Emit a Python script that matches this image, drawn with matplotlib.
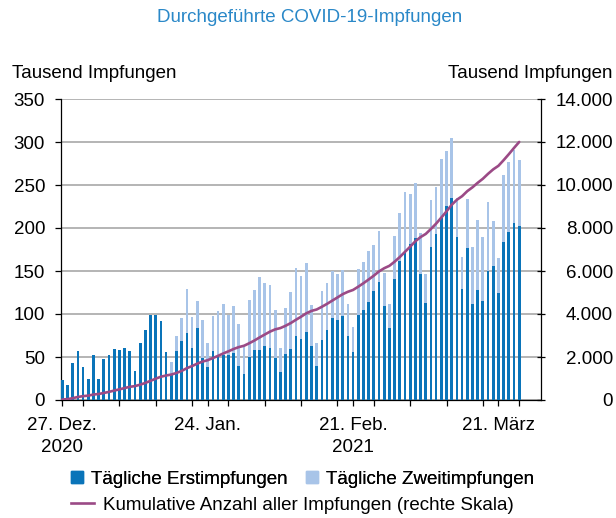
import numpy as np
import pandas as pd
import matplotlib
matplotlib.use("Agg")
import matplotlib.pyplot as plt
import matplotlib.dates as mdates
from matplotlib.lines import Line2D
from matplotlib.ticker import FuncFormatter, MultipleLocator

plt.rcParams['font.family'] = ['Liberation Sans', 'DejaVu Sans']
FS = 13.5

start_date = "2020-12-27"
# Tägliche Erstimpfungen (Tausend)
first_doses = [23, 18, 43, 57, 38, 24, 52, 24, 48, 52, 59, 58, 60, 57, 34, 66, 81, 99, 99, 92, 56,
               29, 57, 69, 78, 61, 84, 49, 38, 57, 51, 52, 52, 55, 39, 30, 50, 58, 58, 63, 60, 49,
               33, 54, 59, 75, 71, 79, 63, 40, 70, 81, 95, 93, 98, 74, 56, 99, 105, 114, 127, 137, 109,
               84, 141, 162, 173, 181, 188, 147, 113, 178, 193, 212, 226, 235, 189, 129, 177, 112, 128,
               115, 150, 156, 125, 184, 195, 206, 202]
# Tägliche Zweitimpfungen (Tausend)
second_doses = [0] * 21 + \
               [15, 17, 26, 51, 35, 31, 44, 28, 41, 52, 60, 47, 54, 49, 32, 66, 70, 85, 73, 74, 56,
                27, 53, 67, 78, 73, 80, 47, 26, 57, 55, 55, 54, 53, 38, 29, 53, 56, 59, 53, 60, 39,
                28, 50, 55, 69, 59, 64, 47, 34, 54, 55, 68, 64, 70, 46, 37, 57, 66, 81, 74, 80, 52,
                40, 78, 82, 85, 77]

major_tick_dates = ["2020-12-27", "2021-01-24", "2021-02-21", "2021-03-21"]
major_tick_labels = ["27. Dez.\n2020", "24. Jan.", "21. Feb.\n2021", "21. März"]
left_ticks = [0, 50, 100, 150, 200, 250, 300, 350]
right_ticks = [0, 2000, 4000, 6000, 8000, 10000, 12000, 14000]

first = np.array(first_doses, dtype=float)
second = np.array(second_doses, dtype=float)
dates = pd.date_range(start_date, periods=len(first), freq="D")
cumulative = np.cumsum(first + second)

DARK = "#0a74b9"
LIGHT = "#a8c4e8"
LINEC = "#9b4a86"
TITLEC = "#2a88c8"

fig = plt.figure(figsize=(6.16, 5.18), dpi=100)
W, H = 616, 518
ax = fig.add_axes([61 / W, (H - 400) / H, 480 / W, 301 / H])

x = mdates.date2num(dates)
bw = 0.52
ax.bar(x, first, width=bw, color=DARK, zorder=3, linewidth=0)
ax.bar(x, second, width=bw, bottom=first, color=LIGHT, zorder=3, linewidth=0)

ax.set_ylim(0, 350)
ax.set_yticks(left_ticks)
ax.yaxis.grid(True, color="#a0a0a0", linewidth=1.1, zorder=0)
ax.set_axisbelow(True)
x0 = mdates.date2num(pd.Timestamp(start_date))
ax.set_xlim(x0 - 0.25, x0 + 92.2)

ax.set_xticks(mdates.date2num(pd.to_datetime(major_tick_dates)))
ax.set_xticklabels(major_tick_labels, fontsize=FS, linespacing=1.4)
ax.xaxis.set_minor_locator(MultipleLocator(7))
ax.tick_params(axis="x", which="both", direction="out", length=4, width=0.9, pad=8)
ax.tick_params(axis="y", direction="out", length=4.5, width=0.9, pad=7, labelsize=FS)

for s in ["top", "right"]:
    ax.spines[s].set_visible(False)
for s in ["left", "bottom"]:
    ax.spines[s].set_linewidth(0.9)

ax2 = ax.twinx()
ax2.plot(x, cumulative, color=LINEC, linewidth=1.9, zorder=5, solid_capstyle="round")
ax2.set_ylim(0, 14000)
ax2.set_yticks(right_ticks)
ax2.yaxis.set_major_formatter(FuncFormatter(lambda v, p: f"{int(v):,}".replace(",", ".")))
ax2.tick_params(axis="y", direction="inout", length=6, width=0.9, pad=49, labelsize=FS)
for lab in ax2.get_yticklabels():
    lab.set_horizontalalignment("right")
for s in ["top", "left", "bottom"]:
    ax2.spines[s].set_visible(False)
ax2.spines["right"].set_linewidth(0.9)

fig.text(310 / W, 1 - 17 / H, "Durchgeführte COVID-19-Impfungen", ha="center", va="center",
         fontsize=FS, color=TITLEC)
fig.text(12 / W, 1 - 73 / H, "Tausend Impfungen", ha="left", va="center", fontsize=FS)
fig.text(612 / W, 1 - 73 / H, "Tausend Impfungen", ha="right", va="center", fontsize=FS)

h1 = Line2D([], [], marker="s", linestyle="none", markersize=8, color=DARK)
h2 = Line2D([], [], marker="s", linestyle="none", markersize=8, color=LIGHT)
h3 = Line2D([], [], color=LINEC, linewidth=1.9)

leg1 = fig.legend([h1, h2], ["Tägliche Erstimpfungen", "Tägliche Zweitimpfungen"],
                  loc="center left", bbox_to_anchor=(68 / W, 1 - 479 / H), ncol=2,
                  frameon=False, fontsize=FS, handlelength=1.0, handletextpad=0.25,
                  columnspacing=0.8, borderpad=0, borderaxespad=0)
leg2 = fig.legend([h3], ["Kumulative Anzahl aller Impfungen (rechte Skala)"],
                  loc="center left", bbox_to_anchor=(71 / W, 1 - 505 / H),
                  frameon=False, fontsize=FS, handlelength=1.2, handletextpad=0.5,
                  borderpad=0, borderaxespad=0)
fig.add_artist(leg1)

fig.savefig("out.png", dpi=100)
